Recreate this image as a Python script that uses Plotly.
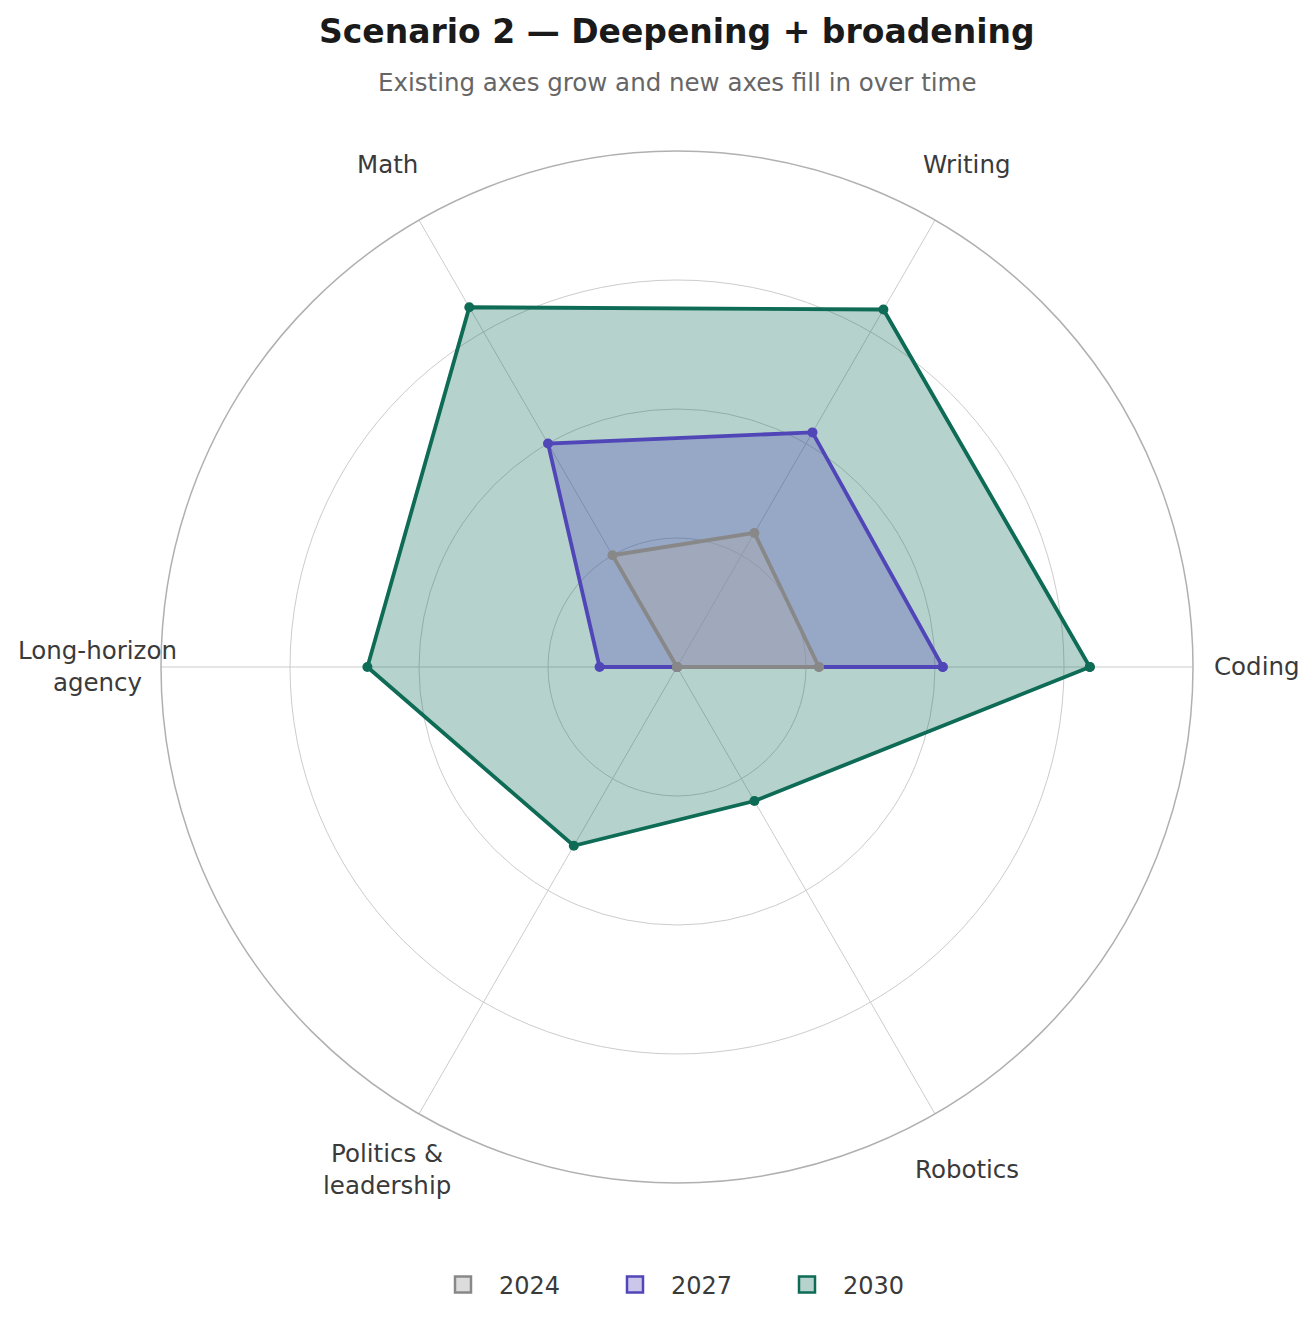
import math
import plotly.graph_objects as go

categories = ["Coding", "Writing", "Math", "Long-horizon<br>agency",
              "Politics &<br>leadership", "Robotics"]
years = ["2024", "2027", "2030"]
scores_2024 = [2.75, 3.0, 2.5, 0, 0, 0]
scores_2027 = [5.15, 5.25, 5.0, 1.5, 0, 0]
scores_2030 = [8.0, 8.0, 8.05, 6.0, 4.0, 3.0]
grid_ticks = [2.5, 5, 7.5, 10]

FONT = "DejaVu Sans"
W, H = 1314, 1324
CX, CY, R = 676, 667, 516      # polar centre and radius in page pixels
LABEL_R = 580                  # category labels sit centred at this radius
line_colors = {"2024": "#888888", "2027": "#5046b8", "2030": "#0e6b55"}
fill_colors = {"2024": "rgba(172,172,172,0.42)",
               "2027": "rgba(80,70,184,0.3)",
               "2030": "rgba(14,107,85,0.3)"}
series = {"2024": scores_2024, "2027": scores_2027, "2030": scores_2030}


def px_x(x):
    # page is rendered with a small offset, compensate here
    return (x - 7) / W


def px_y(y):
    return 1 - (y - 8) / H


def closed(vals):
    return list(vals) + [vals[0]]


fig = go.Figure()

# draw largest first so the smaller shapes sit on top
for year in ["2030", "2027", "2024"]:
    fig.add_trace(go.Scatterpolar(
        r=closed(series[year]),
        theta=closed(categories),
        mode="lines+markers",
        fill="toself",
        fillcolor=fill_colors[year],
        line=dict(color=line_colors[year], width=3.8),
        marker=dict(color=line_colors[year], size=10),
        showlegend=False,
        hoverinfo="skip",
    ))

# legend patches
for year in years:
    fig.add_trace(go.Scatterpolar(
        r=[None], theta=[None],
        mode="markers",
        name=year,
        marker=dict(symbol="square", size=26, color=fill_colors[year],
                    line=dict(color=line_colors[year], width=2.5)),
    ))

# centred category labels, like the reference
step = 360 / len(categories)
label_notes = []
for i, cat in enumerate(categories):
    ang = math.radians(i * step)
    label_notes.append(dict(
        text=cat, x=px_x(CX + LABEL_R * math.cos(ang)), y=px_y(CY - LABEL_R * math.sin(ang)),
        xref="paper", yref="paper", showarrow=False, xanchor="center", yanchor="middle",
        align="center", font=dict(size=24.5, color="#3a3a3a", family=FONT),
    ))

fig.update_layout(
    width=W, height=H,
    margin=dict(l=0, r=0, t=0, b=0),
    paper_bgcolor="white",
    font=dict(family=FONT, size=24, color="#333333"),
    polar=dict(
        domain=dict(x=[px_x(CX - R), px_x(CX + R)], y=[px_y(CY + R), px_y(CY - R)]),
        bgcolor="white",
        angularaxis=dict(
            rotation=0, direction="counterclockwise",
            categoryorder="array", categoryarray=categories,
            showline=True, linecolor="#b0b0b0", linewidth=1.5,
            gridcolor="#cccccc", gridwidth=1.2,
            ticks="", showticklabels=False,
        ),
        radialaxis=dict(
            range=[0, 10], tickvals=grid_ticks, showticklabels=False,
            showline=False, ticks="", gridcolor="#cccccc", gridwidth=1.2,
        ),
    ),
    legend=dict(
        orientation="h", x=px_x(CX + 8), xanchor="center", y=px_y(1285), yanchor="middle",
        font=dict(size=24, color="#3a3a3a"), itemsizing="trace",
        itemwidth=62, entrywidth=95,
    ),
    annotations=[
        dict(text="<b>Scenario 2 — Deepening + broadening</b>", x=px_x(CX), y=px_y(32),
             xref="paper", yref="paper", showarrow=False, yanchor="middle",
             font=dict(size=33, color="#1a1a1a", family=FONT)),
        dict(text="Existing axes grow and new axes fill in over time", x=px_x(CX), y=px_y(82),
             xref="paper", yref="paper", showarrow=False, yanchor="middle",
             font=dict(size=24.5, color="#666666", family=FONT)),
    ] + label_notes,
)

fig.write_html("out.html")
